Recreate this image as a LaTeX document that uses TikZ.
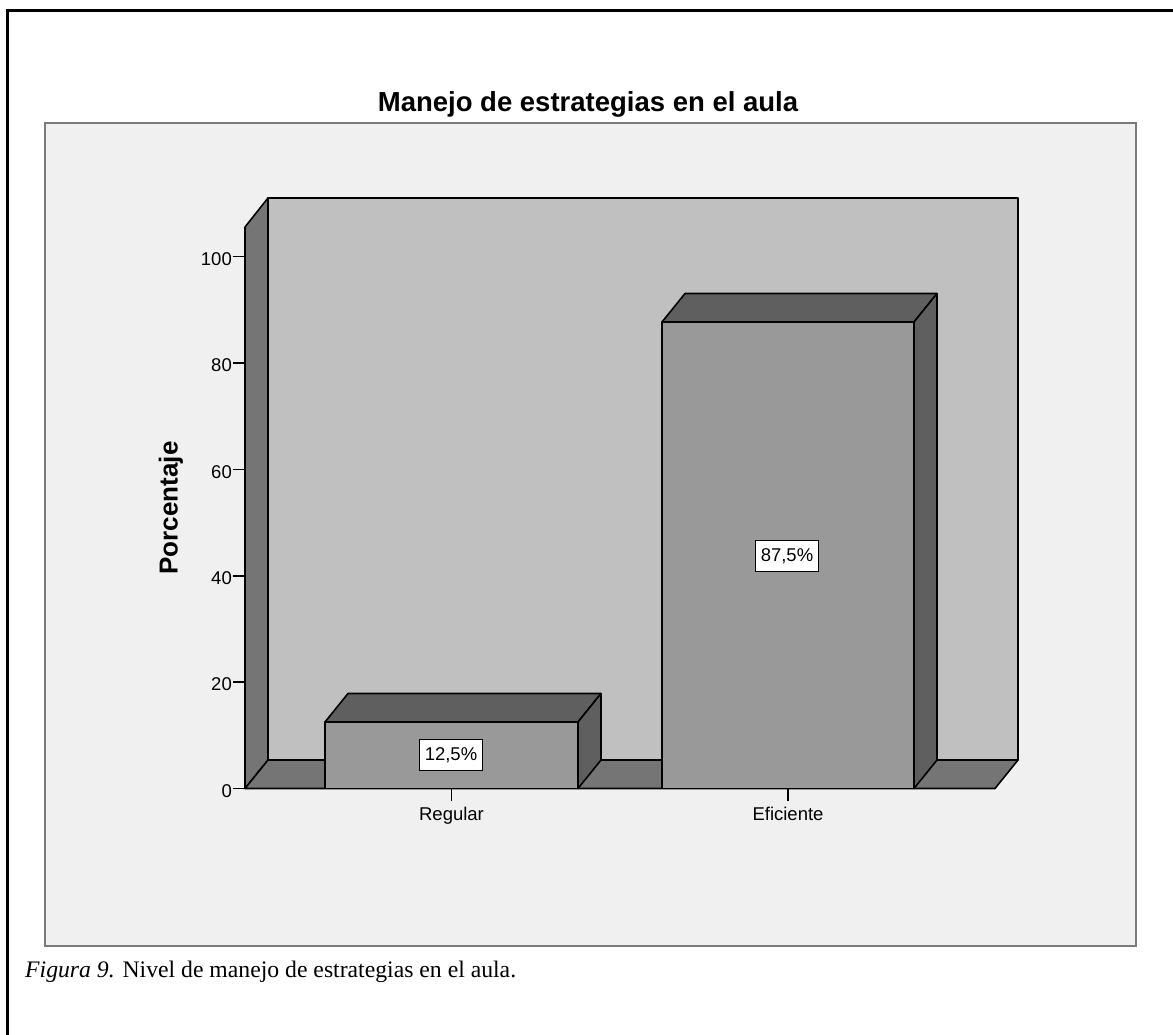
\documentclass[tikz,border=0pt]{standalone}
\usepackage{fontspec}
\setmainfont{Liberation Serif}
\setsansfont{Liberation Sans}
\begin{document}
\begin{tikzpicture}[x=1pt,y=-1pt,
  outline/.style={draw=black,line width=1.6pt,line join=round},
  wallside/.style={outline,fill=sidegray},
  barfront/.style={outline,fill=frontgray},
  bartop/.style={outline,fill=topgray},
  ticklab/.style={font=\sffamily\fontsize{18.5}{20}\selectfont,inner sep=0pt},
  vallab/.style={font=\sffamily\fontsize{18.5}{20}\selectfont,draw=black,line width=1.2pt,fill=white,inner xsep=5pt,inner ysep=0pt,minimum height=31pt},
  tickline/.style={draw=black,line width=1.6pt}
]
\definecolor{panelbg}{HTML}{F0F0F0}
\definecolor{panelrule}{HTML}{7A7A7A}
\definecolor{wallgray}{HTML}{C0C0C0}
\definecolor{sidegray}{HTML}{757575}
\definecolor{frontgray}{HTML}{999999}
\definecolor{topgray}{HTML}{5F5F5F}
\useasboundingbox (0,0) rectangle (1173,1035);
\fill[white] (0,0) rectangle (1173,1035);
% outer frame (open to right and bottom)
\draw[line width=3pt] (7,1040) -- (7,11) -- (1180,11);
% chart panel
\draw[fill=panelbg,draw=panelrule,line width=2pt] (45,123) rectangle (1136,946);
% title
\node[font=\sffamily\bfseries\fontsize{27.5}{30}\selectfont,anchor=base,inner sep=0pt] (title) at (588,112) {Manejo de estrategias en el aula};
% back wall, side wall, floor
\draw[outline,fill=wallgray] (268,198) rectangle (1018,760);
\draw[wallside] (245,227) -- (268,198) -- (268,760) -- (245,788.5) -- cycle;
\draw[wallside] (245,788.5) -- (268,760) -- (1018,760) -- (995,788.5) -- cycle;
% bar Regular
\draw[barfront] (325,722) rectangle (578,788.5);
\draw[bartop] (325,722) -- (348,693.5) -- (601,693.5) -- (578,722) -- cycle;
\draw[bartop] (578,722) -- (601,693.5) -- (601,760) -- (578,788.5) -- cycle;
% bar Eficiente
\draw[barfront] (662,322) rectangle (914,788.5);
\draw[bartop] (662,322) -- (685,293.5) -- (937,293.5) -- (914,322) -- cycle;
\draw[bartop] (914,322) -- (937,293.5) -- (937,760) -- (914,788.5) -- cycle;
% y axis ticks
\foreach \v/\yy in {0/788.5,20/682.1,40/575.7,60/469.3,80/362.9,100/256.5}{
  \draw[tickline] (233,\yy) -- (245,\yy);
  \node[ticklab,anchor=east] (yl\v) at (232,\yy+2.5) {\v};
}
% x axis ticks
\coordinate (xr) at (451.5,788.5);
\coordinate (xe) at (788,788.5);
\draw[tickline] (xr) -- ++(0,12);
\draw[tickline] (xe) -- ++(0,12);
\node[ticklab,anchor=base] (lreg) at (451.5,820) {Regular};
\node[ticklab,anchor=base] (lefi) at (788,820) {Eficiente};
% value labels
\node[vallab] (vreg) at (451,755) {12,5\%};
\node[vallab] (vefi) at (787,556) {87,5\%};
% axis title
\node[font=\sffamily\bfseries\fontsize{26}{28}\selectfont,rotate=90,inner sep=0pt] (ylab) at (171,508) {Porcentaje};
% caption
\node[anchor=base west,inner sep=0pt,font=\fontsize{23.7}{26}\selectfont] (cap) at (25,977) {\textit{Figura 9.} Nivel de manejo de estrategias en el aula.};
\end{tikzpicture}
\end{document}
